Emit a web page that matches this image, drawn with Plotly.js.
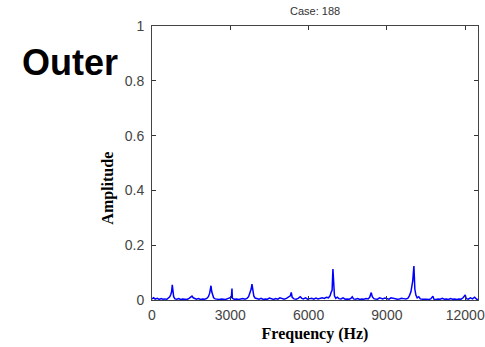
<!DOCTYPE html>
<html><head><meta charset="utf-8">
<script src="https://cdn.plot.ly/plotly-3.0.1.min.js"></script>
<style>body{margin:0;background:#fff}#chart{width:485px;height:347px}</style>
</head><body><div id="chart"></div>
<script>
const freqHz = [0,60,120,200,280,350,420,500,560,620,680,720,750,777,800,830,880,950,1020,1100,1180,1260,1340,1420,1480,1532,1580,1640,1700,1780,1860,1940,2020,2100,2160,2210,2240,2260,2290,2320,2360,2420,2500,2580,2660,2740,2820,2900,2980,3040,3064,3080,3150,3240,3320,3400,3480,3560,3640,3700,3760,3800,3830,3860,3900,3950,4020,4100,4180,4260,4340,4420,4500,4580,4660,4740,4820,4900,4980,5060,5150,5240,5300,5335,5370,5440,5520,5600,5680,5740,5800,5880,5960,6040,6120,6200,6280,6360,6440,6520,6600,6680,6760,6820,6870,6900,6932,6960,6990,7040,7100,7160,7240,7320,7400,7480,7560,7620,7671,7720,7800,7880,7960,8040,8120,8200,8280,8340,8400,8440,8500,8560,8640,8720,8780,8840,8920,9000,9080,9160,9240,9320,9400,9480,9560,9640,9720,9800,9860,9920,9960,9990,10034,10070,10110,10160,10220,10280,10360,10440,10520,10600,10680,10762,10800,10880,10960,11040,11120,11200,11280,11360,11440,11520,11600,11680,11760,11840,11920,12000,12040,12120,12200,12280,12360,12440,12500];
const amplitude = [0.004,0.008,0.003,0.006,0.002,0.005,0.003,0.004,0.002,0.006,0.012,0.02,0.03,0.055,0.025,0.012,0.004,0.003,0.005,0.002,0.004,0.003,0.002,0.006,0.012,0.014,0.008,0.004,0.003,0.005,0.002,0.004,0.003,0.006,0.012,0.025,0.04,0.052,0.03,0.015,0.008,0.004,0.003,0.002,0.004,0.003,0.002,0.005,0.008,0.01,0.042,0.006,0.003,0.004,0.002,0.003,0.005,0.003,0.006,0.012,0.025,0.04,0.058,0.03,0.015,0.007,0.004,0.003,0.006,0.002,0.004,0.003,0.007,0.004,0.002,0.005,0.003,0.008,0.004,0.003,0.006,0.01,0.015,0.028,0.01,0.004,0.003,0.006,0.012,0.006,0.004,0.008,0.003,0.005,0.006,0.003,0.007,0.004,0.005,0.008,0.006,0.01,0.008,0.015,0.03,0.035,0.113,0.035,0.015,0.006,0.01,0.005,0.004,0.008,0.003,0.004,0.003,0.006,0.012,0.004,0.003,0.005,0.002,0.004,0.003,0.005,0.004,0.01,0.027,0.012,0.005,0.004,0.003,0.008,0.006,0.004,0.007,0.005,0.003,0.008,0.006,0.004,0.003,0.004,0.006,0.005,0.004,0.006,0.015,0.03,0.05,0.07,0.124,0.04,0.018,0.008,0.012,0.004,0.003,0.004,0.003,0.002,0.004,0.014,0.003,0.002,0.004,0.003,0.006,0.003,0.004,0.002,0.005,0.003,0.004,0.002,0.004,0.003,0.008,0.018,0.005,0.003,0.008,0.004,0.01,0.003,0.002];
const xTicks = [0,3000,6000,9000,12000];
const yTicks = [0,0.2,0.4,0.6,0.8,1];
const yTickText = ['0','0.2','0.4','0.6','0.8','1'];

const tickFont = {family:'Arial, Liberation Sans, sans-serif', size:14, color:'#444'};
const axisTitleFont = {family:'Liberation Serif, Times New Roman, serif', size:16, color:'#000'};

Plotly.newPlot('chart', [{
  x: freqHz, y: amplitude, type:'scatter', mode:'lines',
  line:{color:'#0000ff', width:1.5}, hoverinfo:'skip'
}], {
  width:485, height:347,
  margin:{l:152, r:7, t:26, b:47, pad:0},
  paper_bgcolor:'#fff', plot_bgcolor:'#fff',
  showlegend:false,
  xaxis:{range:[0,12490], tickvals:xTicks, ticktext:xTicks.map(String),
    ticks:'inside', ticklen:4, tickcolor:'#333', showgrid:false, zeroline:false,
    showline:true, linecolor:'#444', linewidth:1, mirror:'ticks',
    tickfont:tickFont, ticklabelstandoff:2,
    title:{text:'<b>Frequency (Hz)</b>', font:axisTitleFont, standoff:6}},
  yaxis:{range:[0,1], tickvals:yTicks, ticktext:yTickText,
    ticks:'inside', ticklen:4, tickcolor:'#333', showgrid:false, zeroline:false,
    showline:true, linecolor:'#444', linewidth:1, mirror:'ticks',
    tickfont:tickFont, ticklabelstandoff:4},
  annotations:[
    {text:'<b>Amplitude</b>', xref:'paper', yref:'paper', x:-0.135, y:0.41,
     xanchor:'center', yanchor:'middle', textangle:-90, showarrow:false, font:axisTitleFont},
    {text:'<b>Outer</b>', xref:'paper', yref:'paper', x:-0.253, y:0.865,
     xanchor:'center', yanchor:'middle', showarrow:false,
     font:{family:'Arial, Liberation Sans, sans-serif', size:36, color:'#000'}},
    {text:'Case: 188', xref:'paper', yref:'paper', x:0.5, y:1.055,
     xanchor:'center', yanchor:'middle', showarrow:false,
     font:{family:'Arial, Liberation Sans, sans-serif', size:11, color:'#333'}}
  ]
}, {displayModeBar:false, staticPlot:true});
</script></body></html>
